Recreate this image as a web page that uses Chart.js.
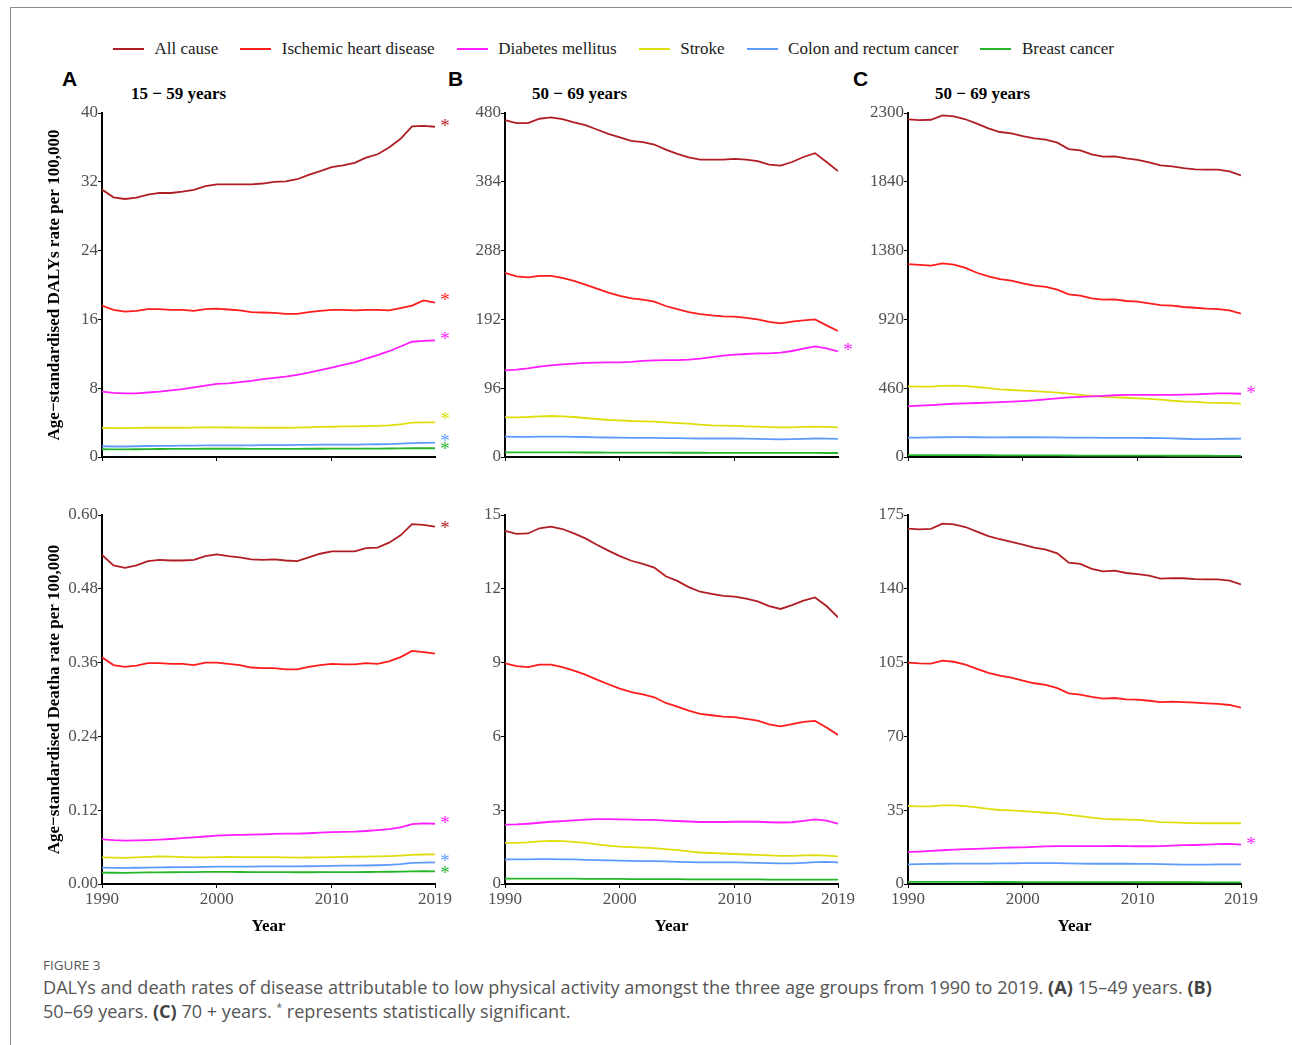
<!DOCTYPE html>
<html>
<head>
<meta charset="utf-8">
<script src="https://cdn.jsdelivr.net/npm/chart.js@4.4.1/dist/chart.umd.min.js"></script>
<style>
  body { margin: 0; background: #fff; width: 1292px; height: 1045px; position: relative; overflow: hidden; font-family: "Liberation Serif", serif; }
  .frame { position: absolute; left: 10px; top: 7px; width: 1300px; height: 1060px; border-top: 1px solid #8a8a8a; border-left: 1px solid #8a8a8a; }
  canvas { position: absolute; }
  #legend { position: absolute; left: 113px; top: 38px; height: 22px; display: flex; align-items: center; font-size: 17px; color: #1a1a1a; white-space: nowrap; }
  #legend .item { display: flex; align-items: center; margin-right: 22px; }
  #legend .swatch { width: 31px; height: 2px; margin-right: 10.5px; }
  .letter { position: absolute; top: 67px; font: bold 21px "Liberation Sans", Arial, sans-serif; color: #000; }
  .ptitle { position: absolute; top: 84px; font: bold 17px "Liberation Serif", serif; color: #000; white-space: nowrap; }
  .figno { position: absolute; left: 43px; top: 956px; font: 13.5px "Open Sans", sans-serif; color: #555; }
  .caption { position: absolute; left: 43px; top: 975px; font: 18.1px/24px "Open Sans", sans-serif; color: #555; white-space: nowrap; }
  .caption b { color: #444; }
  .caption sup { font-size: 10px; line-height: 0; vertical-align: 7px; }
</style>
</head>
<body>
<div class="frame"></div>
<div id="legend"></div>

<div class="letter" style="left:62px">A</div>
<div class="letter" style="left:448px">B</div>
<div class="letter" style="left:853px">C</div>
<div class="ptitle" style="left:131px">15 − 59 years</div>
<div class="ptitle" style="left:532px">50 − 69 years</div>
<div class="ptitle" style="left:935px">50 − 69 years</div>

<canvas id="dalysA" width="420" height="377" style="left:40px;top:100px"></canvas>
<canvas id="dalysB" width="420" height="377" style="left:443px;top:100px"></canvas>
<canvas id="dalysC" width="420" height="377" style="left:846px;top:100px"></canvas>
<canvas id="deathA" width="420" height="442" style="left:40px;top:502px"></canvas>
<canvas id="deathB" width="420" height="442" style="left:443px;top:502px"></canvas>
<canvas id="deathC" width="420" height="442" style="left:846px;top:502px"></canvas>

<div class="figno">FIGURE 3</div>
<div class="caption">DALYs and death rates of disease attributable to low physical activity amongst the three age groups from 1990 to 2019. <b>(A)</b> 15–49 years. <b>(B)</b><br>50–69 years. <b>(C)</b> 70 + years. <sup>*</sup> represents statistically significant.</div>

<script>
// categories
var years = [1990, 1991, 1992, 1993, 1994, 1995, 1996, 1997, 1998, 1999,
             2000, 2001, 2002, 2003, 2004, 2005, 2006, 2007, 2008, 2009,
             2010, 2011, 2012, 2013, 2014, 2015, 2016, 2017, 2018, 2019];
var causes = ['All cause', 'Ischemic heart disease', 'Diabetes mellitus', 'Stroke', 'Colon and rectum cancer', 'Breast cancer'];
var colors = ['#B01E23', '#FF1C1C', '#FF1CFF', '#DEDE0E', '#5E9BFF', '#25B52A'];

// tick labels
var xTicksTop = [1990, 2000, 2010];
var xTicksBottom = [1990, 2000, 2010, 2019];
var yTicksDalysA = [0, 8, 16, 24, 32, 40];
var yTicksDalysB = [0, 96, 192, 288, 384, 480];
var yTicksDalysC = [0, 460, 920, 1380, 1840, 2300];
var yTicksDeathA = [0, 0.12, 0.24, 0.36, 0.48, 0.60];
var yTicksDeathB = [0, 3, 6, 9, 12, 15];
var yTicksDeathC = [0, 35, 70, 105, 140, 175];

// A: DALYs, 15-59 years
var dalysA_all = [31.1, 30.2, 30.0, 30.15, 30.5, 30.7, 30.7, 30.85, 31.05, 31.5, 31.7, 31.7, 31.7, 31.7, 31.8, 32.0, 32.05, 32.3, 32.8, 33.25, 33.7, 33.9, 34.2, 34.8, 35.2, 36.0, 37.0, 38.45, 38.5, 38.4];
var dalysA_ihd = [17.6, 17.1, 16.9, 17.0, 17.2, 17.2, 17.1, 17.1, 17.0, 17.2, 17.25, 17.15, 17.05, 16.85, 16.8, 16.75, 16.65, 16.65, 16.85, 17.0, 17.1, 17.1, 17.05, 17.1, 17.1, 17.05, 17.3, 17.6, 18.2, 17.95];
var dalysA_dm = [7.6, 7.45, 7.4, 7.4, 7.5, 7.6, 7.75, 7.9, 8.1, 8.3, 8.5, 8.55, 8.7, 8.85, 9.05, 9.2, 9.35, 9.55, 9.8, 10.1, 10.4, 10.7, 11.0, 11.45, 11.85, 12.3, 12.85, 13.4, 13.5, 13.55];
var dalysA_stroke = [3.4, 3.35, 3.35, 3.38, 3.4, 3.42, 3.4, 3.4, 3.42, 3.45, 3.45, 3.43, 3.42, 3.42, 3.4, 3.4, 3.4, 3.42, 3.45, 3.5, 3.52, 3.55, 3.55, 3.58, 3.62, 3.68, 3.8, 4.0, 4.02, 4.02];
var dalysA_crc = [1.25, 1.22, 1.22, 1.25, 1.28, 1.3, 1.3, 1.32, 1.32, 1.35, 1.36, 1.36, 1.36, 1.36, 1.37, 1.38, 1.38, 1.4, 1.42, 1.44, 1.45, 1.45, 1.45, 1.47, 1.48, 1.5, 1.55, 1.62, 1.65, 1.66];
var dalysA_breast = [0.9, 0.88, 0.88, 0.9, 0.92, 0.93, 0.94, 0.95, 0.95, 0.96, 0.96, 0.96, 0.96, 0.95, 0.95, 0.95, 0.95, 0.95, 0.96, 0.96, 0.97, 0.97, 0.97, 0.97, 0.98, 0.99, 1.0, 1.02, 1.02, 1.02];
var dalysA_stars = [true, true, true, true, true, true];

// B: DALYs, 50-69 years
var dalysB_all = [470, 466, 466, 472, 474, 471.6, 467, 463, 457, 451, 446, 441, 439.5, 436, 429, 423, 418, 415, 415, 415, 416, 415, 413, 408, 406.5, 411.6, 418.6, 424, 411.6, 399];
var dalysB_ihd = [257, 252, 250.7, 252.6, 252.6, 249.8, 245.6, 240.5, 235, 229.3, 224.7, 221.4, 219.5, 216.7, 210.7, 206.5, 202.3, 199.5, 197.7, 196.3, 195.8, 194, 192, 188.4, 186.5, 188.8, 190.7, 192, 183.7, 175.8];
var dalysB_dm = [121, 121.9, 123.7, 126, 127.9, 129.3, 130.2, 131.2, 131.6, 132, 132, 132.6, 134, 134.9, 135.3, 135.3, 135.8, 137.2, 139.5, 141.4, 142.8, 143.7, 144.7, 144.7, 145.6, 147.9, 151.2, 154.4, 151.6, 147.4];
var dalysB_stroke = [55.3, 55.3, 55.8, 56.7, 57.2, 56.7, 55.8, 54.4, 53, 51.6, 51, 50.2, 49.8, 49.3, 48.4, 47.4, 46.5, 45.1, 44.2, 43.7, 43.3, 42.8, 42.3, 41.8, 41.4, 41.4, 41.9, 42.3, 42, 41.4];
var dalysB_crc = [28.4, 28.2, 28.2, 28.3, 28.4, 28.4, 28.2, 27.9, 27.5, 27.2, 27, 26.8, 26.7, 26.6, 26.4, 26.2, 26, 25.8, 25.8, 25.8, 25.8, 25.6, 25.3, 24.9, 24.7, 24.9, 25.3, 25.8, 25.6, 25.3];
var dalysB_breast = [6.5, 6.5, 6.5, 6.5, 6.5, 6.4, 6.4, 6.3, 6.3, 6.2, 6.2, 6.1, 6.1, 6.0, 6.0, 5.9, 5.9, 5.9, 5.8, 5.8, 5.8, 5.8, 5.7, 5.7, 5.7, 5.7, 5.7, 5.7, 5.6, 5.6];
var dalysB_stars = [false, false, true, false, false, false];

// C: DALYs, 70+ years
var dalysC_all = [2258, 2253, 2255, 2284, 2278, 2258, 2229, 2197, 2173, 2164, 2146, 2131, 2122, 2102, 2059, 2050, 2024, 2008, 2010, 1997, 1986, 1970, 1950, 1943, 1932, 1923, 1921, 1921, 1910, 1883];
var dalysC_ihd = [1290, 1284, 1279, 1295, 1286, 1264, 1232, 1208, 1190, 1179, 1161, 1146, 1137, 1119, 1088, 1079, 1061, 1052, 1054, 1043, 1039, 1027, 1016, 1012, 1003, 998, 992, 989, 981, 958];
var dalysC_dm = [339, 343, 347, 352, 356, 358, 361, 364, 367, 370, 374, 379, 385, 392, 398, 402, 405, 409, 413, 415, 415, 415, 415, 416, 417, 419, 422, 425, 425, 423];
var dalysC_stroke = [472, 471, 471, 476, 477, 474, 468, 460, 452, 448, 444, 440, 435, 431, 424, 416, 408, 402, 399, 396, 392, 388, 383, 376, 371, 368, 364, 362, 360, 357];
var dalysC_crc = [129, 130, 131, 132, 133, 133, 132, 131, 131, 132, 132, 132, 131, 131, 130, 130, 129, 128, 128, 128, 128, 127, 126, 124, 122, 120, 119, 121, 122, 123];
var dalysC_breast = [12, 12, 12, 12, 12, 12, 12, 11.8, 11.5, 11.3, 11, 10.8, 10.6, 10.4, 10, 9.8, 9.6, 9.4, 9.2, 9, 9, 8.8, 8.6, 8.5, 8.4, 8.3, 8.2, 8.1, 8, 7.8];
var dalysC_stars = [false, false, true, false, false, false];

// A: deaths, 15-59 years
var deathA_all = [0.535, 0.518, 0.514, 0.518, 0.525, 0.527, 0.526, 0.526, 0.527, 0.533, 0.536, 0.533, 0.531, 0.528, 0.527, 0.528, 0.526, 0.525, 0.531, 0.537, 0.541, 0.541, 0.541, 0.546, 0.547, 0.555, 0.567, 0.585, 0.584, 0.581];
var deathA_ihd = [0.3686, 0.356, 0.353, 0.355, 0.359, 0.359, 0.358, 0.358, 0.356, 0.360, 0.360, 0.358, 0.356, 0.352, 0.351, 0.351, 0.349, 0.349, 0.353, 0.356, 0.358, 0.357, 0.357, 0.359, 0.358, 0.362, 0.369, 0.379, 0.377, 0.3745];
var deathA_dm = [0.0726, 0.0712, 0.0705, 0.0708, 0.0715, 0.0722, 0.0732, 0.0745, 0.0758, 0.0772, 0.0788, 0.0795, 0.0798, 0.0802, 0.0808, 0.0815, 0.0818, 0.0818, 0.0825, 0.0835, 0.0845, 0.0848, 0.0852, 0.0862, 0.0875, 0.0892, 0.092, 0.0975, 0.0985, 0.098];
var deathA_stroke = [0.0434, 0.0428, 0.0425, 0.0432, 0.044, 0.0447, 0.0444, 0.0438, 0.0434, 0.0434, 0.0438, 0.0439, 0.0437, 0.0436, 0.0436, 0.0436, 0.0433, 0.0428, 0.0431, 0.0434, 0.0438, 0.0441, 0.0443, 0.0446, 0.0449, 0.0454, 0.0462, 0.0474, 0.048, 0.0482];
var deathA_crc = [0.0266, 0.0262, 0.0262, 0.0264, 0.0267, 0.027, 0.0272, 0.0274, 0.0276, 0.0279, 0.0281, 0.0282, 0.0283, 0.0284, 0.0285, 0.0286, 0.0286, 0.0287, 0.0289, 0.0292, 0.0296, 0.0298, 0.0299, 0.0301, 0.0305, 0.0312, 0.0323, 0.0342, 0.0348, 0.0352];
var deathA_breast = [0.0186, 0.0183, 0.0182, 0.0185, 0.0188, 0.019, 0.0191, 0.0193, 0.0194, 0.0196, 0.0197, 0.0196, 0.0195, 0.0194, 0.0193, 0.0193, 0.0192, 0.0191, 0.0191, 0.0192, 0.0193, 0.0194, 0.0194, 0.0195, 0.0197, 0.0199, 0.0202, 0.0206, 0.0207, 0.0206];
var deathA_stars = [true, false, true, false, true, true];

// B: deaths, 50-69 years
var deathB_all = [14.36, 14.23, 14.25, 14.46, 14.53, 14.43, 14.25, 14.05, 13.79, 13.55, 13.33, 13.14, 13.01, 12.86, 12.51, 12.32, 12.07, 11.88, 11.79, 11.71, 11.68, 11.6, 11.49, 11.3, 11.18, 11.34, 11.52, 11.65, 11.3, 10.84];
var deathB_ihd = [8.97, 8.86, 8.82, 8.92, 8.92, 8.82, 8.67, 8.51, 8.31, 8.12, 7.94, 7.8, 7.71, 7.59, 7.36, 7.21, 7.05, 6.92, 6.86, 6.8, 6.78, 6.71, 6.64, 6.49, 6.41, 6.5, 6.59, 6.63, 6.36, 6.06];
var deathB_dm = [2.41, 2.42, 2.45, 2.49, 2.53, 2.56, 2.59, 2.62, 2.64, 2.64, 2.63, 2.62, 2.61, 2.61, 2.58, 2.56, 2.54, 2.52, 2.52, 2.52, 2.53, 2.53, 2.53, 2.51, 2.5, 2.51, 2.57, 2.63, 2.58, 2.45];
var deathB_stroke = [1.67, 1.67, 1.69, 1.73, 1.75, 1.74, 1.71, 1.67, 1.61, 1.56, 1.52, 1.5, 1.48, 1.46, 1.42, 1.38, 1.33, 1.28, 1.26, 1.24, 1.22, 1.2, 1.18, 1.16, 1.14, 1.14, 1.16, 1.17, 1.15, 1.12];
var deathB_crc = [1.0, 1.0, 1.0, 1.01, 1.01, 1.0, 1.0, 0.98, 0.97, 0.96, 0.95, 0.94, 0.93, 0.93, 0.92, 0.9, 0.89, 0.88, 0.88, 0.88, 0.88, 0.87, 0.86, 0.85, 0.84, 0.84, 0.86, 0.89, 0.9, 0.88];
var deathB_breast = [0.22, 0.22, 0.22, 0.22, 0.22, 0.22, 0.22, 0.21, 0.21, 0.21, 0.21, 0.2, 0.2, 0.2, 0.2, 0.2, 0.19, 0.19, 0.19, 0.19, 0.19, 0.19, 0.19, 0.18, 0.18, 0.18, 0.18, 0.18, 0.18, 0.18];
var deathB_stars = [false, false, false, false, false, false];

// C: deaths, 70+ years
var deathC_all = [168.5, 168.2, 168.4, 170.9, 170.6, 169.3, 167.1, 165.0, 163.5, 162.3, 160.9, 159.5, 158.6, 156.8, 152.4, 151.8, 149.5, 148.3, 148.6, 147.5, 147.0, 146.2, 144.8, 145.1, 145.0, 144.6, 144.5, 144.5, 143.9, 142.1];
var deathC_ihd = [105.0, 104.6, 104.5, 105.9, 105.4, 104.0, 102.0, 100.1, 98.8, 97.9, 96.4, 95.2, 94.4, 92.9, 90.4, 89.8, 88.7, 87.9, 88.2, 87.6, 87.4, 86.9, 86.3, 86.5, 86.3, 86.0, 85.7, 85.4, 84.9, 83.6];
var deathC_dm = [15.2, 15.4, 15.7, 16.0, 16.3, 16.5, 16.7, 16.9, 17.1, 17.3, 17.4, 17.6, 17.8, 18.0, 18.0, 18.0, 18.0, 18.0, 18.1, 18.0, 17.9, 17.9, 18.0, 18.2, 18.4, 18.5, 18.7, 18.9, 19.0, 18.7];
var deathC_stroke = [37.0, 36.8, 36.8, 37.3, 37.3, 36.9, 36.3, 35.6, 35.1, 34.9, 34.6, 34.2, 33.8, 33.5, 32.8, 32.2, 31.5, 30.9, 30.7, 30.5, 30.4, 29.9, 29.3, 29.2, 29.0, 28.9, 28.8, 28.8, 28.8, 28.8];
var deathC_crc = [9.3, 9.4, 9.5, 9.6, 9.7, 9.7, 9.7, 9.7, 9.8, 9.8, 9.9, 9.9, 9.9, 9.9, 9.8, 9.7, 9.6, 9.6, 9.6, 9.6, 9.5, 9.5, 9.4, 9.3, 9.2, 9.2, 9.2, 9.3, 9.3, 9.3];
var deathC_breast = [1.0, 1.0, 1.0, 1.0, 1.0, 0.98, 0.97, 0.96, 0.95, 0.94, 0.93, 0.92, 0.91, 0.9, 0.89, 0.88, 0.87, 0.86, 0.85, 0.85, 0.84, 0.84, 0.83, 0.83, 0.82, 0.82, 0.81, 0.81, 0.8, 0.8];
var deathC_stars = [false, false, true, false, false, false];

Chart.defaults.font.family = '"Liberation Serif", "Times New Roman", serif';
Chart.defaults.color = '#505050';

// legend
var legend = document.getElementById('legend');
causes.forEach(function (name, i) {
    var item = document.createElement('div');
    item.className = 'item';
    item.innerHTML = '<span class="swatch" style="background:' + colors[i] + '"></span><span>' + name + '</span>';
    legend.appendChild(item);
});

// asterisks at the end of significant series
var starPlugin = {
    id: 'stars',
    afterDatasetsDraw: function (chart) {
        var ctx = chart.ctx, yScale = chart.scales.y, xScale = chart.scales.x;
        chart.data.datasets.forEach(function (ds) {
            if (!ds.star) return;
            var last = ds.data[ds.data.length - 1];
            ctx.save();
            ctx.fillStyle = ds.borderColor;
            ctx.font = '19px "Liberation Serif", serif';
            ctx.textAlign = 'center';
            ctx.textBaseline = 'middle';
            ctx.fillText('*', xScale.getPixelForValue(last.x) + 10, yScale.getPixelForValue(last.y) + (ds.starDy || 0));
            ctx.restore();
        });
    }
};

function makePanel(id, series, stars, yTicks, decimals, bottomRow, yTitle, starDy) {
    var datasets = series.map(function (vals, i) {
        return {
            label: causes[i],
            data: vals.map(function (v, k) { return { x: years[k], y: v }; }),
            borderColor: colors[i],
            borderWidth: 1.8,
            pointRadius: 0,
            tension: 0,
            star: stars[i],
            starDy: starDy ? starDy[i] : 0
        };
    });
    var xTicks = bottomRow ? xTicksBottom : xTicksTop;
    new Chart(document.getElementById(id), {
        type: 'line',
        data: { datasets: datasets },
        plugins: [starPlugin],
        options: {
            responsive: false,
            animation: false,
            devicePixelRatio: 1,
            layout: { padding: { top: 13, right: 25, left: 0, bottom: 0 } },
            plugins: { legend: { display: false }, tooltip: { enabled: false } },
            scales: {
                x: {
                    type: 'linear',
                    min: 1990, max: 2019,
                    afterBuildTicks: function (axis) { axis.ticks = xTicks.map(function (v) { return { value: v }; }); },
                    afterFit: function (axis) { axis.height = bottomRow ? 60 : 20; },
                    border: { display: true, color: '#000', width: 2 },
                    grid: { drawOnChartArea: false, drawTicks: true, tickLength: 4, color: '#000' },
                    ticks: {
                        display: bottomRow, padding: 1, maxRotation: 0, autoSkip: false,
                        font: { size: 17 }, color: '#505050',
                        callback: function (v) { return String(v); }
                    },
                    title: {
                        display: bottomRow, text: 'Year', color: '#000',
                        font: { size: 17, weight: 'bold' }, padding: { top: 0, bottom: 7 }
                    }
                },
                y: {
                    min: yTicks[0], max: yTicks[yTicks.length - 1],
                    afterBuildTicks: function (axis) { axis.ticks = yTicks.map(function (v) { return { value: v }; }); },
                    afterFit: function (axis) { axis.width = 62; },
                    border: { display: true, color: '#000', width: 2 },
                    grid: { drawOnChartArea: false, drawTicks: true, tickLength: 4, color: '#000' },
                    ticks: {
                        padding: 0, font: { size: 17 }, color: '#505050',
                        callback: function (v) { return decimals ? v.toFixed(decimals) : String(v); }
                    },
                    title: {
                        display: !!yTitle, text: yTitle || '', color: '#000',
                        font: { size: 17, weight: 'bold' }, padding: { top: 4, bottom: 0 }
                    }
                }
            }
        }
    });
}

makePanel('dalysA', [dalysA_all, dalysA_ihd, dalysA_dm, dalysA_stroke, dalysA_crc, dalysA_breast],
    dalysA_stars, yTicksDalysA, 0, false, 'Age\u2212standardised DALYs rate per 100,000', [0, -2, 0, -2, -1, 2]);
makePanel('dalysB', [dalysB_all, dalysB_ihd, dalysB_dm, dalysB_stroke, dalysB_crc, dalysB_breast],
    dalysB_stars, yTicksDalysB, 0, false, null);
makePanel('dalysC', [dalysC_all, dalysC_ihd, dalysC_dm, dalysC_stroke, dalysC_crc, dalysC_breast],
    dalysC_stars, yTicksDalysC, 0, false, null);
makePanel('deathA', [deathA_all, deathA_ihd, deathA_dm, deathA_stroke, deathA_crc, deathA_breast],
    deathA_stars, yTicksDeathA, 2, true, 'Age\u2212standardised Deatha rate per 100,000', [2, 0, 0, 0, 0, 3]);
makePanel('deathB', [deathB_all, deathB_ihd, deathB_dm, deathB_stroke, deathB_crc, deathB_breast],
    deathB_stars, yTicksDeathB, 0, true, null);
makePanel('deathC', [deathC_all, deathC_ihd, deathC_dm, deathC_stroke, deathC_crc, deathC_breast],
    deathC_stars, yTicksDeathC, 0, true, null);
</script>
</body>
</html>
